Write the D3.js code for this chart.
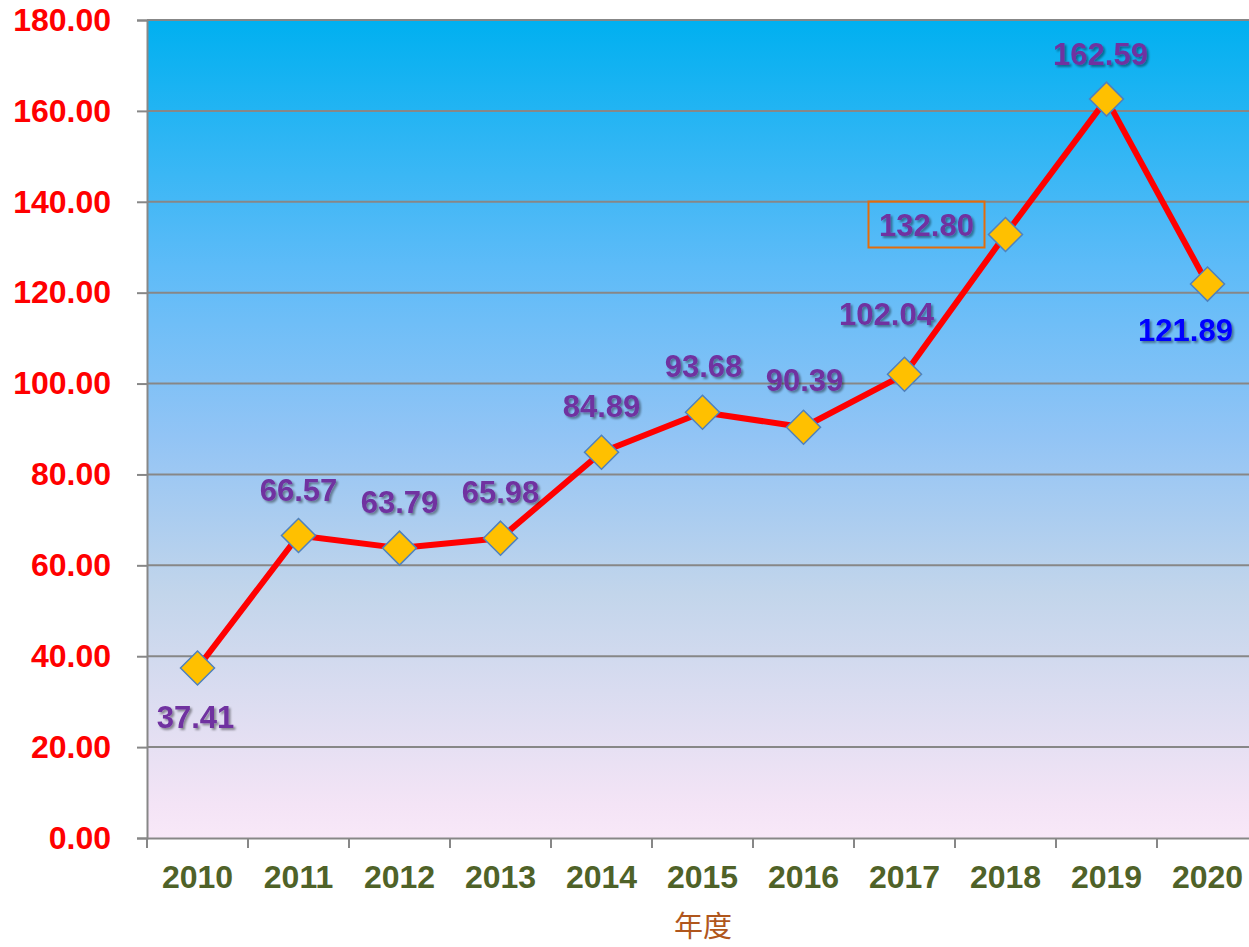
<!DOCTYPE html>
<html>
<head>
<meta charset="utf-8">
<script src="https://cdn.jsdelivr.net/npm/d3@7"></script>
<style>
  body { margin: 0; background: #fff; }
  svg { display: block; font-family: Arial, "Liberation Sans", sans-serif; }
</style>
</head>
<body>
<div id="chart"></div>
<script>
// data
const years = ["2010", "2011", "2012", "2013", "2014", "2015", "2016", "2017", "2018", "2019", "2020"];
const values = [37.41, 66.57, 63.79, 65.98, 84.89, 93.68, 90.39, 102.04, 132.80, 162.59, 121.89];
const yTicks = [0, 20, 40, 60, 80, 100, 120, 140, 160, 180];
const xTitle = "年度";

// label placement (dx, dy of label centre from the point)
const labelOffsets = [
  [-2, 49], [0, -46], [0, -46], [0, -46], [0, -46], [1, -46],
  [1, -47], [-18, -60], [-79, -10], [-6, -45], [-22, 46]
];

const W = 1249, H = 947;
const margin = { top: 20, right: 0, bottom: 109, left: 147 };
const plotW = 1111, plotH = H - margin.top - margin.bottom;

const svg = d3.select("#chart").append("svg")
  .attr("width", W)
  .attr("height", H);

const defs = svg.append("defs");
const grad = defs.append("linearGradient")
  .attr("id", "bg").attr("x1", 0).attr("y1", 0).attr("x2", 0).attr("y2", 1);
[[0, "#00b0f0"], [0.30, "#5dbbf8"], [0.51, "#92c4f5"], [0.70, "#c2d5eb"], [0.96, "#f4e4f6"], [1, "#f8e8f8"]]
  .forEach(([o, c]) => grad.append("stop").attr("offset", o).attr("stop-color", c));

const shadow = defs.append("filter").attr("id", "shadow")
  .attr("x", "-10%").attr("y", "-20%").attr("width", "130%").attr("height", "150%");
shadow.append("feDropShadow")
  .attr("dx", 2).attr("dy", 2).attr("stdDeviation", 1)
  .attr("flood-color", "#000").attr("flood-opacity", 0.4);

const g = svg.append("g").attr("transform", `translate(${margin.left},${margin.top})`);

const x = d3.scaleBand().domain(years).range([0, plotW]);
const y = d3.scaleLinear().domain([0, 180]).range([plotH, 0]);

// background
g.append("rect")
  .attr("width", plotW).attr("height", plotH)
  .attr("fill", "url(#bg)");

// gridlines
g.append("g")
  .selectAll("line")
  .data(yTicks.filter(d => d > 0))
  .enter().append("line")
  .attr("x1", 0).attr("x2", plotW)
  .attr("y1", d => y(d)).attr("y2", d => y(d))
  .attr("stroke", "#878787").attr("stroke-width", 2);

// y axis
const yAxis = g.append("g")
  .call(d3.axisLeft(y).tickValues(yTicks).tickSize(10).tickPadding(26).tickFormat(d3.format(".2f")));
yAxis.select(".domain").attr("stroke", "#878787").attr("stroke-width", 2);
yAxis.selectAll(".tick line").attr("stroke", "#878787").attr("stroke-width", 2);
yAxis.selectAll("text")
  .attr("fill", "#ff0000")
  .style("font-size", "32px")
  .style("font-weight", "bold")
  .attr("font-family", "Arial, 'Liberation Sans', sans-serif");

// x axis
const xAxis = g.append("g")
  .attr("transform", `translate(0,${plotH})`)
  .call(d3.axisBottom(x).tickSize(0).tickPadding(27));
xAxis.select(".domain").attr("stroke", "#878787").attr("stroke-width", 2);
xAxis.selectAll("text")
  .attr("fill", "#4f6228")
  .style("font-size", "32px")
  .style("font-weight", "bold")
  .attr("font-family", "Arial, 'Liberation Sans', sans-serif");

// boundary ticks between categories
g.append("g")
  .selectAll("line")
  .data(years)
  .enter().append("line")
  .attr("x1", d => x(d)).attr("x2", d => x(d))
  .attr("y1", plotH).attr("y2", plotH + 10)
  .attr("stroke", "#878787").attr("stroke-width", 2);

// x title
svg.append("text")
  .attr("x", 703).attr("y", 937)
  .attr("text-anchor", "middle")
  .attr("fill", "#b0561c")
  .style("font-size", "29px")
  .attr("font-family", "'Noto Sans CJK SC', sans-serif")
  .text(xTitle);

const pts = years.map((d, i) => ({ year: d, value: values[i], off: labelOffsets[i] }));
const cx = d => x(d.year) + x.bandwidth() / 2;

// line
g.append("path")
  .datum(pts)
  .attr("fill", "none")
  .attr("stroke", "#ff0000")
  .attr("stroke-width", 6)
  .attr("stroke-linejoin", "round")
  .attr("d", d3.line().x(cx).y(d => y(d.value)));

// markers
g.selectAll(".marker")
  .data(pts)
  .enter().append("path")
  .attr("class", "marker")
  .attr("transform", d => `translate(${cx(d)},${y(d.value)})`)
  .attr("d", "M0,-17L17,0L0,17L-17,0Z")
  .attr("fill", "#ffc000")
  .attr("stroke", "#4f81bd")
  .attr("stroke-width", 1.5);

// labels
g.selectAll(".lbl")
  .data(pts)
  .enter().append("text")
  .attr("class", "lbl")
  .attr("x", d => cx(d) + d.off[0])
  .attr("y", d => y(d.value) + d.off[1])
  .attr("dy", "0.36em")
  .attr("text-anchor", "middle")
  .attr("fill", (d, i) => i === pts.length - 1 ? "#0000ff" : "#7030a0")
  .attr("filter", "url(#shadow)")
  .style("font-size", "31px")
  .style("font-weight", "bold")
  .text(d => d3.format(".2f")(d.value));

// box around the 2018 label
const boxed = pts[8];
g.append("rect")
  .attr("x", cx(boxed) + boxed.off[0] - 58)
  .attr("y", y(boxed.value) + boxed.off[1] - 23)
  .attr("width", 116).attr("height", 46)
  .attr("fill", "none")
  .attr("stroke", "#e46c0a")
  .attr("stroke-width", 2);
</script>
</body>
</html>
